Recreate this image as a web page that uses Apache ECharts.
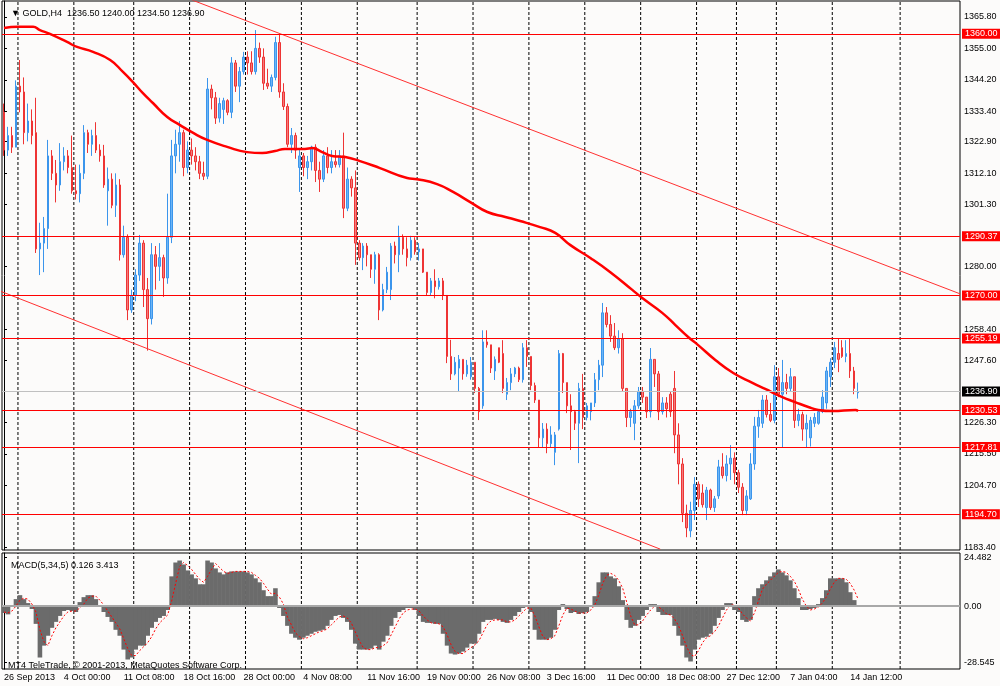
<!DOCTYPE html>
<html>
<head>
<meta charset="utf-8">
<title>GOLD,H4</title>
<script src="https://cdn.jsdelivr.net/npm/echarts@6/dist/echarts.min.js"></script>
<style>
  html, body { margin: 0; padding: 0; background: #fcfbfa; }
  #chart { width: 1000px; height: 686px; }
</style>
</head>
<body>
<div id="chart"></div>
<script>
// time axis labels and the slot each one sits on
const timeLabels = ['26 Sep 2013', '4 Oct 00:00', '11 Oct 08:00', '18 Oct 16:00', '28 Oct 00:00', '4 Nov 08:00',
  '11 Nov 16:00', '19 Nov 00:00', '26 Nov 08:00', '3 Dec 16:00', '11 Dec 00:00', '18 Dec 08:00',
  '27 Dec 12:00', '7 Jan 04:00', '14 Jan 12:00'];
const labelAt = [0, 15, 30, 45, 60, 75, 91, 106, 121, 136, 151, 166, 181, 197, 212];
const slotCount = 240;
// dashed period separators (slot boundary of the line)
const gridCols = [4, 18, 33, 47, 61, 75, 89, 104, 118, 132, 146, 160, 174, 184, 194, 208, 225];

// candles: [open, high, low, close]
const bars = [
  [1333, 1336, 1318, 1320], [1320, 1328, 1318, 1325], [1325, 1328, 1319, 1321], [1321, 1344, 1321, 1342], [1342, 1351, 1333, 1340],
  [1340, 1345, 1322, 1326], [1326, 1336, 1323, 1330], [1330, 1334, 1322, 1325], [1326, 1338, 1284.6, 1286], [1286, 1295, 1277, 1288],
  [1288, 1297, 1278, 1293], [1293, 1323.5, 1286, 1318], [1318, 1320, 1309.7, 1312], [1312, 1316.6, 1302, 1308], [1308, 1322.4, 1306, 1316],
  [1316, 1321, 1313, 1318], [1318, 1320, 1312, 1314], [1314, 1325, 1305, 1306], [1306, 1315, 1303, 1305], [1305, 1315, 1302, 1312],
  [1312, 1328.6, 1310, 1326], [1326, 1327, 1319, 1322], [1322, 1327, 1318, 1325], [1325, 1329.6, 1319, 1320], [1320, 1322, 1316, 1318],
  [1318, 1321.8, 1307, 1308], [1306, 1314, 1294, 1310], [1310, 1312, 1300, 1301], [1301, 1312, 1297, 1308], [1308, 1310, 1282, 1284],
  [1284, 1294, 1283, 1290], [1290, 1291, 1261.5, 1265], [1265, 1272, 1264, 1270], [1270, 1279, 1268, 1277], [1277, 1290.8, 1275, 1288],
  [1288, 1289, 1266, 1272], [1272, 1276, 1251, 1262], [1262, 1288, 1260, 1284], [1284, 1287, 1272, 1280], [1280, 1288, 1275, 1283],
  [1283, 1284, 1269.5, 1276], [1276, 1305, 1274, 1290], [1290, 1323.5, 1288, 1318], [1318, 1327, 1312, 1322], [1322, 1330, 1316, 1326],
  [1326, 1327, 1311, 1314], [1314, 1323, 1312, 1320], [1320, 1324, 1315, 1318], [1318, 1321, 1313, 1316], [1316, 1318, 1310, 1312],
  [1312, 1316, 1309.7, 1311], [1311, 1344.8, 1310, 1341], [1341, 1342.5, 1334, 1338], [1338, 1340, 1329, 1331], [1331, 1338, 1329.5, 1336],
  [1334, 1338, 1329, 1337], [1337, 1337.5, 1332, 1333], [1333, 1352, 1331, 1350], [1350, 1351, 1340, 1342], [1342, 1348.6, 1336.5, 1347],
  [1347, 1353.8, 1346, 1352], [1352, 1354, 1346, 1350], [1350, 1354, 1346, 1347], [1347, 1361.3, 1346, 1355], [1355, 1357, 1350, 1352],
  [1352, 1355, 1340.7, 1343], [1343, 1348, 1341, 1342], [1342, 1346, 1340, 1345], [1345, 1359, 1344, 1357], [1357, 1359.6, 1338, 1340],
  [1340, 1343, 1333.8, 1335], [1335, 1336, 1321, 1322], [1322, 1327.6, 1319, 1325], [1325, 1326, 1317, 1320], [1314, 1320, 1305.6, 1318],
  [1318, 1319, 1311, 1314], [1314, 1318, 1310, 1316], [1316, 1321.5, 1313, 1321], [1321, 1322, 1309, 1313], [1313, 1316, 1305.6, 1310],
  [1310, 1320, 1309, 1318], [1318, 1321, 1312, 1314], [1314, 1320, 1312, 1316], [1316, 1320, 1314, 1315], [1315, 1320, 1314, 1318],
  [1318, 1326, 1296.6, 1300], [1300, 1314, 1299, 1310], [1310, 1311, 1304, 1307], [1307, 1313, 1280.5, 1288], [1288, 1289, 1282, 1283],
  [1283, 1288, 1278.7, 1287], [1287, 1288, 1280, 1284], [1284, 1284, 1276, 1279], [1279, 1285, 1274, 1284], [1284, 1284.5, 1261.5, 1265],
  [1265, 1274, 1264.5, 1272], [1272, 1279.8, 1270.8, 1278], [1272, 1288, 1268.4, 1287], [1287, 1288.5, 1281, 1284], [1284, 1294, 1278, 1290],
  [1290, 1291, 1284, 1286], [1286, 1290, 1280, 1283], [1283, 1290.5, 1282, 1289], [1289, 1290, 1284, 1285], [1285, 1288, 1282, 1286],
  [1286, 1286, 1277.7, 1278], [1278, 1278, 1270, 1271], [1271, 1276, 1270, 1275], [1275, 1279, 1269, 1273], [1273, 1276, 1272, 1275],
  [1275, 1276, 1268.4, 1270], [1270, 1270, 1246.7, 1249], [1249, 1254.7, 1240.9, 1243], [1243, 1248.8, 1242.5, 1247], [1245, 1249.5, 1236.8, 1248],
  [1248, 1248, 1241, 1243], [1243, 1247.8, 1242, 1246], [1242, 1248.8, 1241, 1247], [1247, 1247, 1236.4, 1238], [1238, 1238.5, 1227.1, 1230],
  [1232, 1258, 1231, 1254], [1254, 1258, 1252, 1253], [1253, 1253, 1243.3, 1245], [1244, 1249, 1240.9, 1248], [1252, 1252, 1246.7, 1247],
  [1250, 1254.6, 1236.4, 1238], [1236, 1241.6, 1234, 1240], [1240, 1245, 1237.4, 1243], [1243, 1245.4, 1241.9, 1245], [1245, 1245.5, 1240.2, 1241],
  [1241, 1253.6, 1240, 1252], [1252, 1254.6, 1245.4, 1249], [1249, 1249, 1237.4, 1239], [1239, 1240, 1233, 1234], [1234, 1234, 1217.8, 1221],
  [1221, 1226.1, 1217.8, 1224], [1224, 1226, 1215.7, 1219], [1219, 1225, 1217.8, 1222], [1216, 1223, 1211.6, 1222], [1224, 1251.2, 1223.5, 1250],
  [1250, 1250.2, 1236.4, 1240], [1240, 1240, 1229.5, 1232], [1232, 1236, 1216.8, 1230], [1230, 1230.6, 1223.7, 1226], [1226, 1239.9, 1212.3, 1238],
  [1238, 1243, 1224, 1228], [1228, 1233, 1227, 1232], [1230, 1233, 1227, 1233], [1233, 1243.3, 1231.6, 1241], [1241, 1247.8, 1237.4, 1246],
  [1246, 1267.4, 1241.9, 1264], [1264, 1266, 1259, 1260], [1260, 1263.2, 1254, 1256], [1256, 1260.5, 1251.2, 1252], [1252, 1258, 1250, 1255],
  [1255, 1257, 1237, 1238], [1238, 1238, 1224.7, 1228], [1228, 1231, 1224.7, 1230], [1226, 1234, 1220.2, 1232], [1232, 1238.5, 1231, 1237],
  [1237, 1238.5, 1233, 1235], [1235, 1235, 1227.8, 1230], [1230, 1251.9, 1228, 1248], [1248, 1248, 1238.5, 1243], [1243, 1244, 1227.1, 1230],
  [1230, 1235, 1229, 1233], [1233, 1235, 1228, 1231], [1236, 1237, 1228.2, 1230], [1238, 1244, 1215.7, 1222], [1222, 1226, 1205, 1212],
  [1212, 1214, 1192, 1195], [1195, 1198, 1186.8, 1190], [1189, 1199, 1186.8, 1196], [1196, 1207.5, 1192.7, 1205], [1205, 1206, 1197.2, 1200],
  [1202, 1205, 1197, 1198], [1197, 1204.1, 1192.7, 1203], [1203, 1203.5, 1196.2, 1197], [1197, 1201, 1195.5, 1200], [1201, 1213.4, 1200, 1211],
  [1211, 1215.7, 1207, 1208], [1208, 1215, 1206, 1212], [1212, 1218.5, 1206.5, 1214], [1214, 1216, 1205, 1209], [1209, 1210, 1202, 1204],
  [1204, 1205.4, 1194.4, 1196], [1196, 1203, 1194.4, 1201], [1200, 1215.7, 1199.6, 1212], [1212, 1228.2, 1210, 1225], [1225, 1230.6, 1221, 1228],
  [1226, 1235.7, 1224.4, 1234], [1234, 1235.7, 1228, 1229], [1229, 1233, 1226.4, 1227], [1227, 1246, 1226, 1242], [1242, 1245, 1235, 1236],
  [1236, 1247.8, 1217.8, 1240], [1240, 1243, 1236, 1238], [1238, 1245, 1237, 1242], [1242, 1242, 1224.4, 1227], [1227, 1231, 1225, 1229],
  [1229, 1230, 1220, 1224], [1224, 1229, 1217.8, 1226], [1221, 1228.2, 1218, 1227], [1226, 1229.5, 1224.7, 1228], [1226, 1230.6, 1225.5, 1230],
  [1230, 1237.4, 1229.5, 1235], [1233, 1245.4, 1231, 1244], [1242, 1248.4, 1238.5, 1247], [1247, 1254, 1245, 1252], [1250, 1255.3, 1243.6, 1248],
  [1252, 1254.6, 1248.5, 1249], [1249, 1254.6, 1247, 1250], [1250, 1255.3, 1241.6, 1244], [1244, 1245.4, 1236, 1238], [1236.5, 1240, 1234.5, 1236.9]
];

// moving average, read at a few points: [slot, price]
const maLine = [
  [0, 1362.0], [3.5, 1362.4], [7.3, 1362.4], [9, 1361.3], [11.5, 1360.0], [15.8, 1357.2], [18.3, 1355.5], [22.3, 1353.8],
  [26.6, 1351.0], [29.8, 1346.9], [32.3, 1343.4], [34.8, 1339.6], [37.3, 1336.2], [40.9, 1331.4], [44.1, 1328.6], [47.4, 1325.9],
  [50.9, 1323.5], [55.9, 1321.1], [60.9, 1319.3], [64.7, 1319.0], [67.9, 1319.7], [70.4, 1320.4], [75.4, 1320.4], [77.2, 1320.7],
  [79.7, 1319.3], [82.2, 1318.0], [85.5, 1317.6], [89.2, 1316.2], [94.2, 1313.8], [101, 1310.4], [103.5, 1310.0], [108.5, 1308.3],
  [112.5, 1305.6], [116.8, 1302.1], [121.1, 1298.7], [125.6, 1297.0], [129.3, 1295.6], [134.3, 1293.5], [138.1, 1291.5], [141.9, 1287.3],
  [146.9, 1282.9], [151.9, 1278.0], [157.4, 1271.9], [159.9, 1269.1], [164.9, 1264.0], [168.2, 1259.8], [171.4, 1255.7], [173.9, 1252.9],
  [178.2, 1247.8], [182.7, 1243.3], [187.5, 1239.9], [190.7, 1237.8], [195, 1235.0], [198.2, 1233.3], [201.5, 1231.6], [204, 1230.6],
  [207.5, 1230.2], [213.3, 1230.6], [214, 1230.2]
];

// channel lines: [slot, price]
const upperChannel = [[47.1, 1371.65], [239.6, 1270.5]];
const lowerChannel = [[-1, 1271.5], [164.4, 1182.7]];

// horizontal levels and last price
const levels = [1360.00, 1290.37, 1270.00, 1255.19, 1230.53, 1217.81, 1194.70];
const lastPrice = 1236.90;
const priceTicks = [1365.80, 1355.00, 1344.20, 1333.40, 1322.90, 1312.10, 1301.30, 1280.00, 1258.40, 1247.60,
  1226.30, 1215.50, 1204.70, 1183.40];
const priceRange = [1182.4, 1371.3];

// MACD(5,34,5)
const macd = [
  -3.5, -4.2, 0.5, 3.5, 5.5, 3.5, 1.5, -1.5, -9, -26,
  -20, -15, -11, -8, -5, -2.5, -2, -2.5, -3, 2,
  4.5, 5.5, 5.5, 3.5, 0.5, -3, -5.5, -8, -12, -15,
  -22, -27, -26, -22, -20, -20, -15, -11, -8, -6,
  -5, -2, 15, 22, 23, 21, 18, 16, 14, 11,
  11, 23, 22, 19, 17, 16, 17, 17.5, 17.5, 17.5,
  17.5, 17, 16, 14, 12, 8, 5, 5, 9, -1,
  -5, -10, -14, -16, -17, -16, -15, -14, -13, -12.5,
  -12, -10, -7, -5, -4.5, -6, -8, -12, -19, -22,
  -22, -22, -21.5, -20, -22, -18, -15, -10, -6, -3,
  -2, -1, -1, -2, -5, -8, -8.5, -8.5, -9, -9,
  -14, -20, -24, -24.5, -24, -23, -21, -19, -19, -14,
  -8, -7, -7, -6.5, -7, -8, -8.5, -7, -5, -3,
  -1, 0.5, -3, -12, -17, -17, -17, -16, -12, -2,
  1, -1.5, -3.5, -3, -4, -3.5, -3, 0, 5, 12,
  17, 17, 15, 14, 10, 3, -7, -11, -10, -7,
  -5, -2, 1, 1, -3, -4.5, -4.5, -4.5, -10, -15,
  -20, -26, -28, -22, -17, -16, -15.5, -14, -10, -6,
  -2, 1.5, 1.5, -2, -3, -7, -8, -7, 5, 9,
  11, 13, 15, 17, 18.5, 17, 15.5, 13, 9, 4,
  -2, -2, -1.5, -1, 1, 4, 8, 14, 14, 14,
  14, 12, 7, 3, 0.126
];
const signal = [
  -3, -3.5, -2.5, 0, 3, 4, 3.5, 1, -3, -12,
  -18, -20, -15, -11, -8, -5, -3, -2.5, -2.5, -1,
  1, 4, 5, 5, 3, 0.5, -2.5, -5.5, -8.5, -11.5,
  -16.5, -21.5, -25, -25, -22.5, -20.5, -18.5, -15.5, -11.5, -8.5,
  -6.5, -4.5, 2.5, 11.5, 20, 22, 20.5, 18.5, 16, 13.5,
  12, 15, 18.5, 21.5, 19.5, 17.5, 16.5, 17, 17.5, 17.5,
  17.5, 17.5, 17, 15.5, 14, 11.5, 8.5, 6, 6.5, 4.5,
  1, -5.5, -9.5, -13.5, -15.5, -16.5, -16, -15, -14, -13,
  -12.5, -11.5, -9.5, -7.5, -5.5, -5, -6, -8.5, -13, -17.5,
  -21, -22, -22, -21, -21, -20, -18.5, -14.5, -10.5, -6.5,
  -3.5, -2, -1.5, -1.5, -2.5, -5, -7, -8.5, -8.5, -9,
  -10.5, -14.5, -19.5, -23, -24, -24, -22.5, -21, -19.5, -17.5,
  -13.5, -9.5, -7.5, -7, -7, -7, -8, -8, -7, -5,
  -3, -1, -1, -5, -10.5, -15.5, -17, -16.5, -15, -10,
  -4.5, -1, -1.5, -2.5, -3.5, -3.5, -3.5, -2, 0.5, 5.5,
  11.5, 15.5, 16.5, 15.5, 13, 9, 2, -5, -9.5, -9.5,
  -7.5, -4.5, -2, 0, -0.5, -2, -4, -4.5, -6.5, -10,
  -15, -20.5, -24.5, -25.5, -22.5, -18.5, -16, -15, -13, -10,
  -6, -2, 0.5, 0.5, -1, -4, -6, -7.5, -3.5, 2.5,
  8.5, 11, 13, 15, 17, 17.5, 17, 15, 12.5, 8.5,
  3.5, 0, -2, -1.5, -0.5, 1.5, 4.5, 8.5, 12, 14,
  14, 13.5, 11.5, 8, 3.413
];
const macdTicks = [24.482, 0, -28.545];
const macdTickText = ['24.482', '0.00', '-28.545'];
const macdRange = [-31.8, 26.8];

const fontFamily = '"Liberation Sans", Arial, "DejaVu Sans", sans-serif';
const cats = Array.from({ length: slotCount }, (_, i) => String(i));
const labelMap = {};
labelAt.forEach((idx, k) => { labelMap[idx] = timeLabels[k]; });

// period separators as one broken line per panel, spanning the panel's value range
function separatorData(range) {
  const out = [];
  gridCols.forEach(b => {
    out.push([b - 0.5, range[0]], [b - 0.5, range[1]], '-');
  });
  return out;
}
const sepStyle = { color: '#000', width: 1, type: [3, 2] };

const levelLines = levels.map(v => ({ yAxis: v }));
levelLines.push({
  yAxis: lastPrice,
  lineStyle: { color: '#c0c0c0', width: 1, type: 'solid' },
  label: { backgroundColor: '#000' }
});

const noSplit = { show: false };
const plainText = { fontSize: 9, fontWeight: 'normal', color: '#000', fontFamily: fontFamily };
const chart = echarts.init(document.getElementById('chart'));

chart.setOption({
  animation: false,
  backgroundColor: '#fcfbfa',
  textStyle: { fontFamily: fontFamily },
  title: [
    { text: '\u25BC GOLD,H4  1236.50 1240.00 1234.50 1236.90', left: 6, top: 4, textStyle: plainText },
    { text: 'MACD(5,34,5) 0.126 3.413', left: 6, top: 556, textStyle: plainText },
    { text: 'MT4 TeleTrade, \u00A9 2001-2013, MetaQuotes Software Corp.', left: 3, top: 656, textStyle: plainText }
  ],
  grid: [
    { left: 2, right: 40, top: 1, bottom: 136, outerBoundsMode: 'none',
      show: true, borderColor: '#000', borderWidth: 1, backgroundColor: 'transparent' },
    { left: 2, right: 40, top: 553, bottom: 17, outerBoundsMode: 'none',
      show: true, borderColor: '#000', borderWidth: 1, backgroundColor: 'transparent' }
  ],
  xAxis: [
    {
      type: 'category', gridIndex: 0, data: cats, boundaryGap: true,
      axisLine: { show: false }, axisTick: { show: false }, axisLabel: { show: false },
      splitLine: noSplit, splitArea: noSplit
    },
    {
      type: 'value', gridIndex: 0, min: -0.5, max: slotCount - 0.5,
      axisLine: { show: false }, axisTick: { show: false }, axisLabel: { show: false },
      splitLine: noSplit, splitArea: noSplit
    },
    {
      type: 'category', gridIndex: 1, data: cats, boundaryGap: true,
      axisLine: { show: false }, axisTick: { show: false },
      axisLabel: {
        interval: (idx) => labelMap[idx] !== undefined,
        formatter: (v, idx) => labelMap[idx] || '',
        align: 'left', margin: 4, fontSize: 9, color: '#000', fontFamily: fontFamily
      },
      splitLine: noSplit, splitArea: noSplit
    },
    {
      type: 'value', gridIndex: 1, min: -0.5, max: slotCount - 0.5,
      axisLine: { show: false }, axisTick: { show: false }, axisLabel: { show: false },
      splitLine: noSplit, splitArea: noSplit
    }
  ],
  yAxis: [
    {
      type: 'value', gridIndex: 0, position: 'right', min: priceRange[0], max: priceRange[1],
      axisLine: { show: true, lineStyle: { color: '#000' } },
      axisTick: { show: true, length: 3, customValues: priceTicks, lineStyle: { color: '#000' } },
      axisLabel: { customValues: priceTicks, formatter: v => v.toFixed(2), margin: 4, fontSize: 9, color: '#000', fontFamily: fontFamily },
      splitLine: noSplit
    },
    {
      type: 'value', gridIndex: 1, position: 'right', min: macdRange[0], max: macdRange[1],
      axisLine: { show: true, lineStyle: { color: '#000' } },
      axisTick: { show: true, length: 3, customValues: macdTicks, lineStyle: { color: '#000' } },
      axisLabel: {
        customValues: macdTicks,
        formatter: v => macdTickText[macdTicks.indexOf(v)] || '',
        margin: 4, fontSize: 9, color: '#000', fontFamily: fontFamily
      },
      splitLine: noSplit
    }
  ],
  series: [
    {
      name: 'sepMain', type: 'line', xAxisIndex: 1, yAxisIndex: 0, data: separatorData(priceRange),
      symbol: 'none', connectNulls: false, lineStyle: sepStyle, silent: true, z: 1
    },
    {
      name: 'sepMacd', type: 'line', xAxisIndex: 3, yAxisIndex: 1, data: separatorData(macdRange),
      symbol: 'none', connectNulls: false, lineStyle: sepStyle, silent: true, z: 1
    },
    {
      name: 'GOLD,H4', type: 'candlestick', xAxisIndex: 0, yAxisIndex: 0,
      barWidth: 2,
      data: bars.map(b => [b[0], b[3], b[2], b[1]]),
      itemStyle: {
        color: '#6db5f5', color0: '#f27c7c',
        borderColor: '#3b95ec', borderColor0: '#ee3434', borderWidth: 1
      },
      markLine: {
        silent: true, symbol: ['none', 'none'], animation: false,
        lineStyle: { color: '#ff0000', width: 1, type: 'solid' },
        label: {
          position: 'end', distance: 2, formatter: p => Number(p.value).toFixed(2),
          color: '#fff', backgroundColor: '#ff0000', padding: [1, 3, 0, 3],
          fontSize: 9, fontFamily: fontFamily
        },
        data: levelLines
      },
      z: 2
    },
    {
      name: 'MA', type: 'line', xAxisIndex: 1, yAxisIndex: 0, data: maLine,
      smooth: true, symbol: 'none', lineStyle: { color: '#ff0000', width: 2.5 }, z: 4
    },
    {
      name: 'upper', type: 'line', xAxisIndex: 1, yAxisIndex: 0, data: upperChannel,
      symbol: 'none', lineStyle: { color: '#ff3030', width: 1 }, z: 3
    },
    {
      name: 'lower', type: 'line', xAxisIndex: 1, yAxisIndex: 0, data: lowerChannel,
      symbol: 'none', lineStyle: { color: '#ff3030', width: 1 }, z: 3
    },
    {
      name: 'MACD', type: 'bar', xAxisIndex: 2, yAxisIndex: 1, data: macd,
      barWidth: 4.6, barGap: '-100%',
      itemStyle: { color: '#6b6b6b' },
      markLine: {
        silent: true, symbol: ['none', 'none'], animation: false,
        lineStyle: { color: '#a8a8a8', width: 2, type: 'solid' },
        label: { show: false },
        data: [{ yAxis: 0 }]
      },
      z: 2
    },
    {
      name: 'Signal', type: 'line', xAxisIndex: 3, yAxisIndex: 1,
      data: signal.map((v, i) => [i, v]),
      symbol: 'none', lineStyle: { color: '#ff0000', width: 1, type: [2, 2] }, z: 4
    }
  ]
});

window.addEventListener('resize', () => chart.resize());
</script>
</body>
</html>
